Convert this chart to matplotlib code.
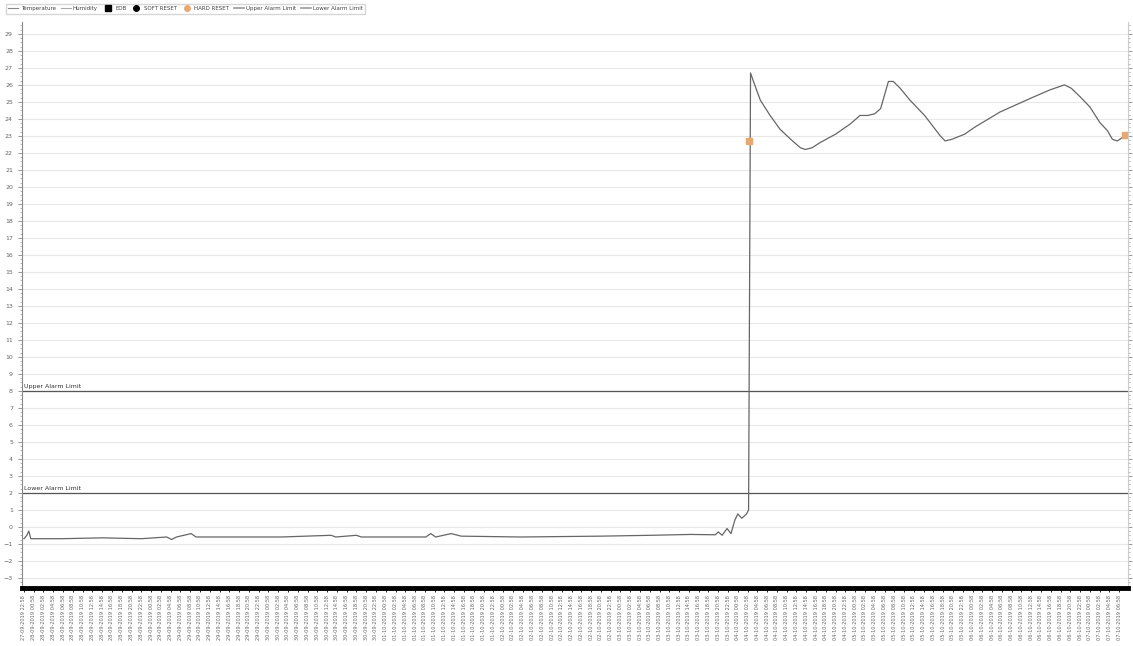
import matplotlib
matplotlib.use("Agg")
import matplotlib.pyplot as plt
from matplotlib.lines import Line2D
from matplotlib.ticker import MultipleLocator
import pandas as pd

# x positions are in tick-label units (one label per slot)
temp_x = [0.0, 0.3, 0.5, 0.7, 3.9, 8.0, 12.0, 14.6, 15.1, 15.6, 17.1, 17.6,
          26.3, 31.4, 31.9, 34.0, 34.5, 41.1, 41.6, 42.1, 43.7, 44.7, 50.8,
          59.0, 64.1, 68.2, 70.7, 71.0, 71.4, 71.9, 72.3, 72.7, 73.0, 73.4,
          73.9, 74.1, 74.3, 74.6, 75.3, 76.3, 77.3, 78.4, 79.4, 79.9, 80.6,
          81.4, 83.0, 84.5, 85.5, 86.3, 87.0, 87.6, 88.4, 88.9, 89.6, 90.6,
          92.1, 93.7, 94.2, 94.9, 96.2, 97.2, 99.8, 102.9, 104.9, 106.4,
          107.1, 108.0, 109.0, 110.0, 110.8, 111.3, 111.8, 112.6]
temp_y = [-0.7, -0.5, -0.25, -0.7, -0.7, -0.65, -0.7, -0.6, -0.75, -0.6, -0.4, -0.6,
          -0.6, -0.5, -0.6, -0.5, -0.6, -0.6, -0.4, -0.6, -0.4, -0.55, -0.6,
          -0.55, -0.5, -0.45, -0.47, -0.3, -0.5, -0.1, -0.4, 0.4, 0.76, 0.5,
          0.76, 1.0, 26.7, 26.2, 25.1, 24.2, 23.4, 22.8, 22.3, 22.2, 22.3,
          22.6, 23.1, 23.7, 24.2, 24.2, 24.3, 24.6, 26.2, 26.2, 25.8, 25.1,
          24.2, 23.0, 22.7, 22.8, 23.1, 23.5, 24.4, 25.2, 25.7, 26.0,
          25.8, 25.3, 24.7, 23.8, 23.3, 22.8, 22.7, 23.0]

hard_reset_x = [74.1, 112.6]
hard_reset_y = [22.7, 23.06]

upper_alarm = 8
lower_alarm = 2

n_labels = 113
tick_labels = pd.date_range("2019-09-27 22:58", periods=n_labels, freq="2h").strftime("%d-%m-%Y %H:%M")

fig = plt.figure(figsize=(11.33, 6.46), dpi=100)
ax = fig.add_axes([0.0194, 0.0898, 0.9762, 0.8762])

ax.set_ylim(-3.6, 29.7)
ax.set_xlim(-0.2, n_labels - 0.1)
ax.yaxis.set_major_locator(MultipleLocator(1))
ax.yaxis.set_minor_locator(MultipleLocator(0.25))
ax.grid(axis="y", color="#e8e8e8", linewidth=0.8)
ax.set_axisbelow(True)

ax.axhline(upper_alarm, color="#555555", linewidth=0.9)
ax.axhline(lower_alarm, color="#555555", linewidth=0.9)
ax.text(0.0, upper_alarm + 0.15, "Upper Alarm Limit", fontsize=4.5, color="#333333")
ax.text(0.0, lower_alarm + 0.15, "Lower Alarm Limit", fontsize=4.5, color="#333333")

ax.plot(temp_x, temp_y, color="#666666", linewidth=0.9)
ax.plot(hard_reset_x, hard_reset_y, "s", color="#e8a870", markersize=5, linestyle="none")

ax.set_xticks(range(n_labels))
ax.set_xticklabels(tick_labels, rotation=90, fontsize=3.6, color="#666666")
ax.tick_params(axis="x", length=3, width=0.6, color="black", pad=2)
ax.tick_params(axis="y", which="major", labelsize=4.5, labelcolor="#666666", length=3, width=0.6, color="#888888")
ax.tick_params(axis="y", which="minor", length=1.5, width=0.4, color="#888888")
ax.tick_params(axis="y", which="both", right=True)

ax.spines["top"].set_visible(False)
ax.spines["left"].set_color("#888888")
ax.spines["right"].set_color("#cccccc")
ax.spines["bottom"].set_linewidth(3.5)
ax.spines["bottom"].set_color("black")

handles = [
    Line2D([], [], color="#888888", linewidth=0.8),
    Line2D([], [], color="#aaaaaa", linewidth=0.8),
    Line2D([], [], marker="s", color="black", linestyle="none", markersize=4),
    Line2D([], [], marker="o", color="black", linestyle="none", markersize=4),
    Line2D([], [], marker="o", color="#e8a870", linestyle="none", markersize=4),
    Line2D([], [], color="#999999", linewidth=1.2),
    Line2D([], [], color="#999999", linewidth=1.2),
]
names = ["Temperature", "Humidity", "EOB", "SOFT RESET", "HARD RESET",
         "Upper Alarm Limit", "Lower Alarm Limit"]
fig.legend(handles, names, loc="upper left", bbox_to_anchor=(0.003, 0.998), ncol=7,
           fontsize=4.0, frameon=True, edgecolor="#cccccc", fancybox=False,
           handlelength=1.8, handletextpad=0.4, columnspacing=0.9, borderpad=0.4,
           labelcolor="#444444")

fig.savefig("out.png", dpi=100)
